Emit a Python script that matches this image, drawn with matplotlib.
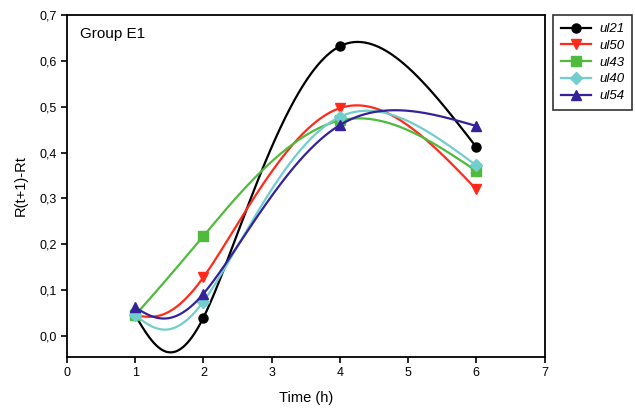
import numpy as np
import matplotlib
matplotlib.use("Agg")
import matplotlib.pyplot as plt
from matplotlib.ticker import FuncFormatter

plt.rcParams['font.family'] = ['Liberation Sans', 'DejaVu Sans']

# data
time_h = [1, 2, 4, 6]
ul21 = [0.045, 0.040, 0.632, 0.412]
ul50 = [0.045, 0.128, 0.497, 0.320]
ul43 = [0.045, 0.218, 0.470, 0.360]
ul40 = [0.045, 0.075, 0.478, 0.372]
ul54 = [0.062, 0.092, 0.460, 0.458]
series_names = ["ul21", "ul50", "ul43", "ul40", "ul54"]


def natural_spline(t, y, ts):
    # natural cubic spline through (t, y), evaluated at ts
    t = np.asarray(t, float)
    y = np.asarray(y, float)
    n = len(t)
    h = np.diff(t)
    A = np.zeros((n, n))
    b = np.zeros(n)
    A[0, 0] = 1
    A[-1, -1] = 1
    for i in range(1, n - 1):
        A[i, i - 1] = h[i - 1]
        A[i, i] = 2 * (h[i - 1] + h[i])
        A[i, i + 1] = h[i]
        b[i] = 6 * ((y[i + 1] - y[i]) / h[i] - (y[i] - y[i - 1]) / h[i - 1])
    M = np.linalg.solve(A, b)
    idx = np.clip(np.searchsorted(t, ts) - 1, 0, n - 2)
    t0, t1 = t[idx], t[idx + 1]
    hh = t1 - t0
    a0 = t1 - ts
    a1 = ts - t0
    return (M[idx] * a0**3 / (6 * hh) + M[idx + 1] * a1**3 / (6 * hh)
            + (y[idx] / hh - M[idx] * hh / 6) * a0
            + (y[idx + 1] / hh - M[idx + 1] * hh / 6) * a1)


def smooth_curve(x, y, sx=68.0, sy=459.0):
    # parametric spline, centripetal spacing measured on the page
    x = np.asarray(x, float)
    y = np.asarray(y, float)
    d = np.sqrt(np.hypot(np.diff(x) * sx, np.diff(y) * sy))
    d[0] = 0.92 * d[1]
    t = np.concatenate([[0], np.cumsum(d)])
    ts = np.linspace(0, t[-1], 400)
    return natural_spline(t, x, ts), natural_spline(t, y, ts)


styles = [
    ("black", "o"),
    ("#ff2a1a", "v"),
    ("#4fba3c", "s"),
    ("#72cdcd", "D"),
    ("#33229a", "^"),
]

fig = plt.figure(figsize=(6.35, 4.19), dpi=100)
ax = fig.add_axes([0.1055, 0.148, 0.752, 0.816])

for name, ys, (col, mk) in zip(series_names, [ul21, ul50, ul43, ul40, ul54], styles):
    cx, cy = smooth_curve(time_h, ys)
    ax.plot(cx, cy, color=col, lw=1.6)
    ax.plot(time_h, ys, linestyle="none", marker=mk, color=col,
            markersize=6.5 if mk != "D" else 6)
    ax.plot([], [], color=col, lw=1.6, marker=mk, markersize=6.5, label=name)

ax.set_xlim(0, 7)
ax.set_ylim(-0.046, 0.7)
ax.set_xticks(range(0, 8))
ax.set_yticks(np.arange(0, 0.71, 0.1))
ax.yaxis.set_major_formatter(FuncFormatter(lambda v, p: f"{v:.1f}".replace(".", ",")))
ax.tick_params(direction="out", length=4, width=1.2, labelsize=9)
for s in ax.spines.values():
    s.set_linewidth(1.3)

ax.set_xlabel("Time (h)", fontsize=10.5, labelpad=8)
ax.set_ylabel("R(t+1)-Rt", fontsize=10.5, labelpad=8)
ax.text(0.028, 0.965, "Group E1", transform=ax.transAxes, fontsize=11, va="top")

leg = fig.legend(loc="upper left", bbox_to_anchor=(0.871, 0.964), borderaxespad=0,
                 frameon=True, fancybox=False, edgecolor="black",
                 prop={"style": "italic", "size": 9.5},
                 handlelength=2.3, borderpad=0.6, labelspacing=0.34, handletextpad=0.6)
leg.get_frame().set_linewidth(1.2)

fig.savefig("out.png", dpi=100)
